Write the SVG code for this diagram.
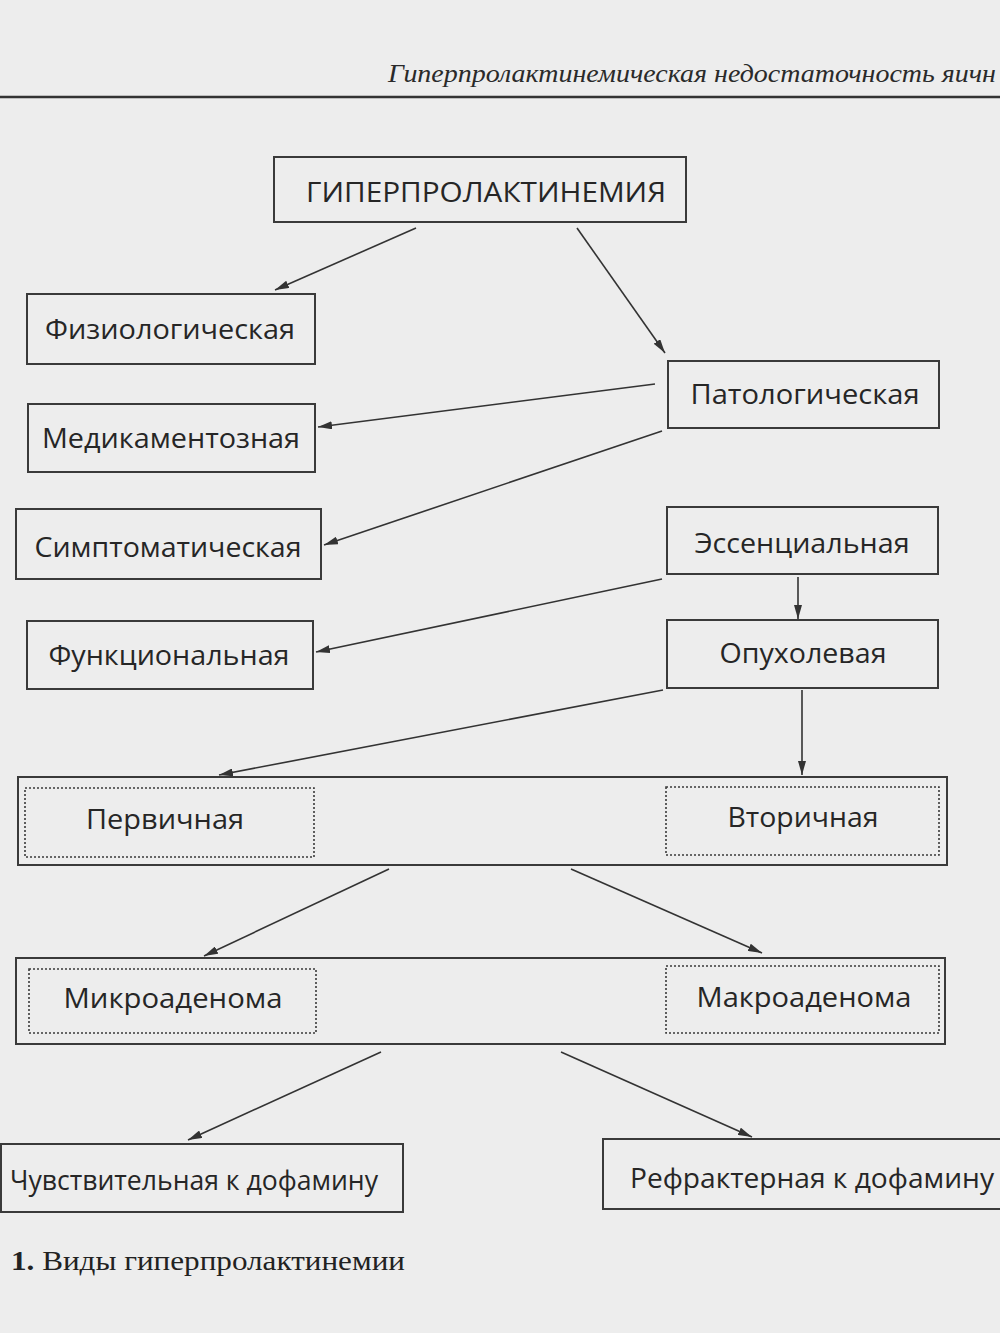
<svg xmlns="http://www.w3.org/2000/svg" width="1000" height="1333" viewBox="0 0 1000 1333">
<style>
.box{fill:none;stroke:#3a3a3a;stroke-width:2}
.dot{fill:none;stroke:#3a3a3a;stroke-width:1.6;stroke-dasharray:2 2}
.lbl{font-family:"Open Sans","Noto Sans",sans-serif;font-size:27px;fill:#262626;text-anchor:middle}
.conn line{stroke:#333;stroke-width:1.6;marker-end:url(#ah)}
.hdr{font-family:"Liberation Serif",serif;font-style:italic;font-size:26px;fill:#2a2a2a}
.cap{font-family:"Liberation Serif",serif;font-size:27px;fill:#222}
</style>
<defs>
<marker id="ah" viewBox="0 0 14 8" refX="14" refY="4" markerWidth="14" markerHeight="8" markerUnits="userSpaceOnUse" orient="auto">
<path d="M0,0 L14,4 L0,8 z" fill="#333"/>
</marker>
</defs>
<rect width="1000" height="1333" fill="#ededed"/>
<text class="hdr" x="388" y="82" textLength="608" lengthAdjust="spacingAndGlyphs">Гиперпролактинемическая недостаточность яичн</text>
<line x1="0" y1="97" x2="1000" y2="97" stroke="#333" stroke-width="2.5"/>

<g id="n-root"><rect class="box" x="274" y="157" width="412" height="65"/><text class="lbl" x="486" y="202" font-size="30" textLength="360" lengthAdjust="spacingAndGlyphs">ГИПЕРПРОЛАКТИНЕМИЯ</text></g>
<g id="n-fiz"><rect class="box" x="27" y="294" width="288" height="70"/><text class="lbl" x="170" y="339" textLength="250" lengthAdjust="spacingAndGlyphs">Физиологическая</text></g>
<g id="n-med"><rect class="box" x="28" y="404" width="287" height="68"/><text class="lbl" x="171" y="448" textLength="258" lengthAdjust="spacingAndGlyphs">Медикаментозная</text></g>
<g id="n-simp"><rect class="box" x="16" y="509" width="305" height="70"/><text class="lbl" x="168" y="557" textLength="267" lengthAdjust="spacingAndGlyphs">Симптоматическая</text></g>
<g id="n-func"><rect class="box" x="27" y="621" width="286" height="68"/><text class="lbl" x="169" y="665" textLength="241" lengthAdjust="spacingAndGlyphs">Функциональная</text></g>
<g id="n-pat"><rect class="box" x="668" y="361" width="271" height="67"/><text class="lbl" x="805" y="404" textLength="229" lengthAdjust="spacingAndGlyphs">Патологическая</text></g>
<g id="n-ess"><rect class="box" x="667" y="507" width="271" height="67"/><text class="lbl" x="802" y="553" textLength="215" lengthAdjust="spacingAndGlyphs">Эссенциальная</text></g>
<g id="n-opu"><rect class="box" x="667" y="620" width="271" height="68"/><text class="lbl" x="803" y="663" textLength="167" lengthAdjust="spacingAndGlyphs">Опухолевая</text></g>

<g id="n-group1"><rect class="box" x="18" y="777" width="929" height="88"/></g>
<g id="n-perv"><rect class="dot" x="25" y="788" width="289" height="69"/><text class="lbl" x="165" y="829" textLength="158" lengthAdjust="spacingAndGlyphs">Первичная</text></g>
<g id="n-vtor"><rect class="dot" x="666" y="787" width="273" height="68"/><text class="lbl" x="803" y="827" textLength="151" lengthAdjust="spacingAndGlyphs">Вторичная</text></g>

<g id="n-group2"><rect class="box" x="16" y="958" width="929" height="86"/></g>
<g id="n-micro"><rect class="dot" x="29" y="969" width="287" height="64"/><text class="lbl" x="173" y="1008" textLength="219" lengthAdjust="spacingAndGlyphs">Микроаденома</text></g>
<g id="n-macro"><rect class="dot" x="666" y="966" width="273" height="67"/><text class="lbl" x="804" y="1007" textLength="215" lengthAdjust="spacingAndGlyphs">Макроаденома</text></g>

<g id="n-sens"><rect class="box" x="1" y="1144" width="402" height="68"/><text class="lbl" x="378" y="1190" style="text-anchor:end" textLength="368" lengthAdjust="spacingAndGlyphs">Чувствительная к дофамину</text></g>
<g id="n-refr"><rect class="box" x="603" y="1139" width="420" height="70"/><text class="lbl" x="630" y="1188" style="text-anchor:start" textLength="364" lengthAdjust="spacingAndGlyphs">Рефрактерная к дофамину</text></g>

<g id="connectors" class="conn">
<line x1="416" y1="228" x2="275" y2="290"/>
<line x1="577" y1="228" x2="665" y2="353"/>
<line x1="655" y1="384" x2="318" y2="427"/>
<line x1="662" y1="431" x2="324" y2="545"/>
<line x1="662" y1="579" x2="316" y2="652"/>
<line x1="798" y1="577" x2="798" y2="619"/>
<line x1="663" y1="690" x2="219" y2="775"/>
<line x1="802" y1="690" x2="802" y2="775"/>
<line x1="389" y1="869" x2="204" y2="956"/>
<line x1="571" y1="869" x2="762" y2="953"/>
<line x1="381" y1="1052" x2="188" y2="1140"/>
<line x1="561" y1="1052" x2="752" y2="1137"/>
</g>

<text class="cap" x="11" y="1270" textLength="394" lengthAdjust="spacingAndGlyphs"><tspan font-weight="bold">1.</tspan> Виды гиперпролактинемии</text>
</svg>
